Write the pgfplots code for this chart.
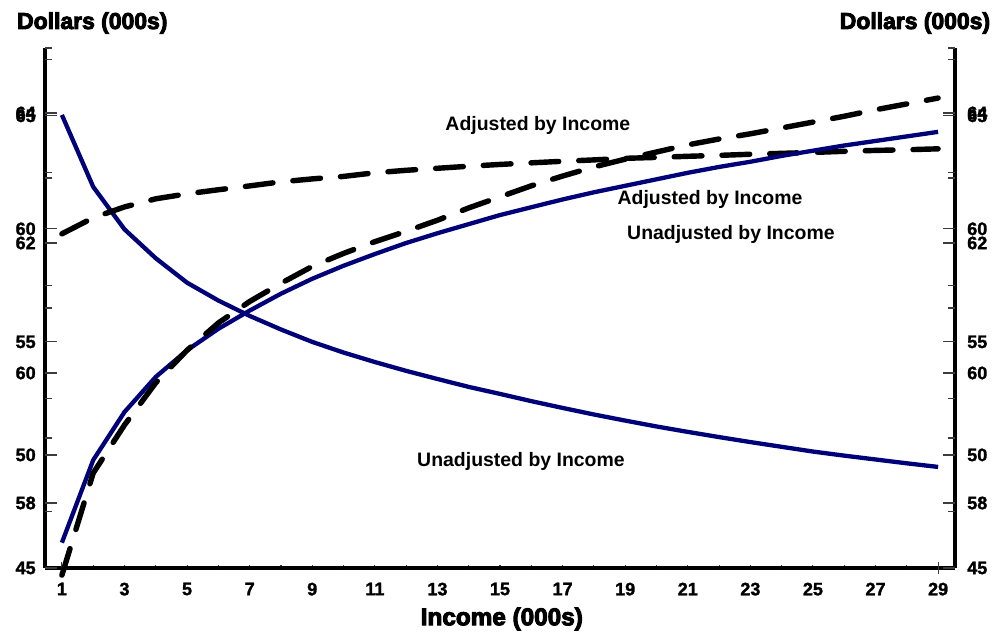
\documentclass[border=0pt]{standalone}
\usepackage{fontspec}
\setmainfont{Liberation Sans}
\newfontfamily\heavy{Liberation Sans}[BoldFeatures={FakeBold=4}]
\newfontfamily\tickfont{Liberation Sans}[BoldFeatures={FakeBold=1.5}]
\usepackage{pgfplots}
\pgfplotsset{compat=1.18}
\definecolor{navyline}{RGB}{0,0,120}
\definecolor{tickgray}{RGB}{60,60,60}

\begin{document}
\begin{tikzpicture}
\pgfplotsset{
  common/.style={
    width=655.2pt, height=374.4pt, scale only axis, clip=false,
    xmin=0.46, xmax=29.54,
    /pgf/number format/assume math mode=true,
    ticklabel style={font=\tickfont\bfseries\fontsize{13}{13}\selectfont, inner sep=0pt},
    tick style={tickgray, line width=0.8pt},
    tick align=inside,
    major tick length=8.6pt, minor tick length=5pt,
  },
  overlay/.style={axis x line=none, axis y line=box,
    y axis line style={draw=none}, xtick=\empty},
  leftlab/.style={ytick pos=both, yticklabel pos=left,
    yticklabel style={anchor=east, xshift=-6.5pt}},
  rightlab/.style={ytick pos=both, yticklabel pos=right,
    yticklabel style={anchor=west, xshift=8.6pt}},
  scaleA/.style={ymin=45, ymax=68, ytick={45,50,...,65},
    minor ytick={47.5,52.5,57.5,62.5,67.5}},
  scaleB/.style={ymin=57, ymax=65, ytick={58,60,62,64},
    minor ytick={59,61,63,65}},
  dashline/.style={black, line width=3.9pt, line cap=round, dash pattern=on 20pt off 14.4pt},
  blueline/.style={navyline, line width=3.1pt, line join=round},
}

% scale A: frame, x axis, left labels
\begin{axis}[common, scaleA, leftlab,
    axis x line=bottom, axis y line=box,
    x axis line style={line width=2.6pt, -},
    y axis line style={line width=2.6pt, -},
    ytick style={draw=none},
    major tick length=3.6pt, minor tick length=3.6pt,
    xtick={1,3,...,29}, minor xtick={2,4,...,28},
    xticklabel style={anchor=north, yshift=-8.6pt},
    extra x ticks={1,29}, extra x tick labels={},
    extra x tick style={major tick length=8.6pt},
  ]
  \coordinate (SW) at (rel axis cs:0,0);
  \coordinate (NE) at (rel axis cs:1,1);
  % Unadjusted by income (falling)
  \addplot[blueline] coordinates {
    (1,65.04) (2,61.86) (3,59.98) (4,58.70) (5,57.62) (6,56.83) (7,56.15)
    (8,55.55) (9,55.00) (10,54.53) (11,54.11) (12,53.72) (13,53.36) (14,53.01)
    (15,52.70) (16,52.38) (17,52.08) (18,51.79) (19,51.52) (20,51.26) (21,51.02)
    (22,50.79) (23,50.57) (24,50.36) (25,50.15) (26,49.97) (27,49.80) (28,49.63)
    (29,49.47)
  };
  % Adjusted by income (flat)
  \addplot[dashline] coordinates {
    (1,59.78) (2,60.49) (3,60.97) (4,61.33) (5,61.55) (6,61.73) (7,61.90)
    (8,62.08) (9,62.21) (10,62.32) (11,62.48) (12,62.59) (13,62.68) (14,62.77)
    (15,62.85) (16,62.92) (17,62.99) (18,63.05) (19,63.12) (20,63.16) (21,63.21)
    (22,63.25) (23,63.30) (24,63.34) (25,63.38) (26,63.43) (27,63.47) (28,63.50)
    (29,63.54)
  };
  \begin{scope}[font=\fontsize{14}{14}\selectfont\bfseries]
  \node at (axis cs:16.21,64.59) {Adjusted by Income};
  \node at (axis cs:15.67,49.73) {Unadjusted by Income};
  \node at (axis cs:21.71,61.28) {Adjusted by Income};
  \node at (axis cs:22.38,59.73) {Unadjusted by Income};
  \end{scope}
  \begin{scope}[font=\heavy\bfseries\fontsize{16.5}{16.5}\selectfont]
  \node at (rel axis cs:0.052,1.048) {Dollars (000s)};
  \node at (rel axis cs:0.956,1.048) {Dollars (000s)};
  \end{scope}
  \node[font=\heavy\bfseries\fontsize{17.5}{17.5}\selectfont] at (rel axis cs:0.502,-0.098) {Income (000s)};
\end{axis}

% scale A: ticks both sides, right labels
\begin{axis}[common, overlay, scaleA, rightlab]
\end{axis}

% scale B: ticks, left labels, data
\begin{axis}[common, overlay, scaleB, leftlab]
  % Unadjusted by income (rising)
  \addplot[blueline] coordinates {
    (1,57.39) (2,58.66) (3,59.40) (4,59.94) (5,60.35) (6,60.68) (7,60.96)
    (8,61.22) (9,61.45) (10,61.65) (11,61.83) (12,62.00) (13,62.15) (14,62.29)
    (15,62.43) (16,62.55) (17,62.67) (18,62.78) (19,62.88) (20,62.98) (21,63.08)
    (22,63.17) (23,63.25) (24,63.34) (25,63.42) (26,63.50) (27,63.57) (28,63.64)
    (29,63.71)
  };
  % Adjusted by income (rising)
  \addplot[dashline] coordinates {
    (1,56.89) (2,58.46) (3,59.20) (4,59.85) (5,60.35) (6,60.77) (7,61.10)
    (8,61.38) (9,61.64) (10,61.84) (11,62.02) (12,62.18) (13,62.35) (14,62.54)
    (15,62.71) (16,62.88) (17,63.03) (18,63.17) (19,63.29) (20,63.40) (21,63.51)
    (22,63.60) (23,63.68) (24,63.77) (25,63.86) (26,63.95) (27,64.05) (28,64.14)
    (29,64.23)
  };
\end{axis}

% scale B: right labels
\begin{axis}[common, overlay, scaleB, rightlab, ytick style={draw=none}]
\end{axis}

\pgfresetboundingbox
\path ([shift={(-32.4pt,-48.24pt)}]SW) rectangle ([shift={(32.4pt,34.56pt)}]NE);
\end{tikzpicture}
\end{document}
